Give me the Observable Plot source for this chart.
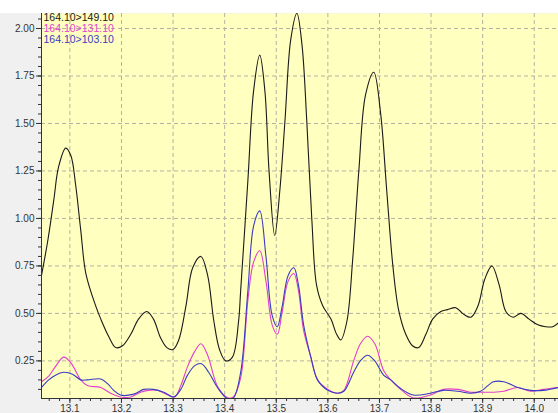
<!DOCTYPE html>
<html>
<head>
<meta charset="utf-8">
<script src="https://cdn.jsdelivr.net/npm/d3@7"></script>
<script src="https://cdn.jsdelivr.net/npm/@observablehq/plot@0.6"></script>
<style>
  html, body { margin: 0; padding: 0; background: #f0f0f0; }
  #chart svg { display: block; }
</style>
</head>
<body>
<div id="chart"></div>
<script>
// Retention time (min) and intensity pairs for each MRM transition
const trace149 = [
  [13.045, 0.70], [13.057, 0.88], [13.069, 1.10], [13.078, 1.27], [13.092, 1.37],
  [13.102, 1.33], [13.111, 1.18], [13.121, 0.94], [13.131, 0.71], [13.150, 0.54],
  [13.160, 0.47], [13.175, 0.38], [13.189, 0.32], [13.202, 0.33], [13.218, 0.39],
  [13.233, 0.47], [13.249, 0.51], [13.262, 0.47], [13.276, 0.37], [13.288, 0.32],
  [13.300, 0.31], [13.311, 0.36], [13.325, 0.54], [13.338, 0.74], [13.354, 0.80],
  [13.367, 0.70], [13.379, 0.46], [13.390, 0.31], [13.402, 0.25], [13.415, 0.27],
  [13.427, 0.46], [13.431, 0.62], [13.445, 1.20], [13.456, 1.67], [13.468, 1.86],
  [13.478, 1.67], [13.486, 1.25], [13.497, 0.91], [13.507, 1.15], [13.517, 1.52],
  [13.528, 1.94], [13.540, 2.08], [13.550, 1.91], [13.559, 1.52], [13.569, 0.99],
  [13.578, 0.65], [13.590, 0.54], [13.606, 0.47], [13.617, 0.39], [13.625, 0.36],
  [13.637, 0.46], [13.648, 0.78], [13.660, 1.25], [13.673, 1.65], [13.689, 1.77],
  [13.702, 1.56], [13.714, 1.15], [13.726, 0.75], [13.737, 0.52], [13.751, 0.39],
  [13.764, 0.33], [13.776, 0.32], [13.790, 0.39], [13.803, 0.47], [13.819, 0.51],
  [13.832, 0.52], [13.848, 0.53], [13.861, 0.50], [13.877, 0.48], [13.891, 0.54],
  [13.904, 0.68], [13.918, 0.75], [13.932, 0.65], [13.945, 0.51], [13.959, 0.48],
  [13.974, 0.50], [13.990, 0.47], [14.007, 0.44], [14.022, 0.43], [14.036, 0.43],
  [14.047, 0.45]
];

const trace131 = [
  [13.045, 0.14], [13.059, 0.17], [13.072, 0.22], [13.088, 0.27], [13.102, 0.24],
  [13.121, 0.15], [13.134, 0.12], [13.160, 0.11], [13.179, 0.08], [13.198, 0.06],
  [13.218, 0.06], [13.237, 0.085], [13.251, 0.095], [13.270, 0.095], [13.290, 0.07],
  [13.303, 0.06], [13.315, 0.12], [13.328, 0.22], [13.342, 0.30], [13.354, 0.34],
  [13.367, 0.28], [13.386, 0.116], [13.406, 0.056], [13.417, 0.06], [13.431, 0.16],
  [13.445, 0.57], [13.456, 0.77], [13.468, 0.83], [13.480, 0.67], [13.492, 0.44],
  [13.502, 0.39], [13.511, 0.50], [13.523, 0.67], [13.534, 0.71], [13.543, 0.62],
  [13.553, 0.41], [13.567, 0.27], [13.580, 0.15], [13.600, 0.10], [13.619, 0.08],
  [13.631, 0.095], [13.650, 0.25], [13.663, 0.34], [13.677, 0.38], [13.691, 0.34],
  [13.708, 0.20], [13.722, 0.15], [13.741, 0.10], [13.766, 0.055], [13.799, 0.07],
  [13.824, 0.10], [13.852, 0.10], [13.877, 0.085], [13.896, 0.085], [13.921, 0.085],
  [13.941, 0.09], [13.968, 0.11], [13.993, 0.09], [14.018, 0.10], [14.047, 0.11]
];

const trace103 = [
  [13.045, 0.11], [13.059, 0.15], [13.072, 0.175], [13.088, 0.19], [13.105, 0.18],
  [13.121, 0.15], [13.134, 0.15], [13.160, 0.155], [13.173, 0.13], [13.185, 0.095],
  [13.198, 0.07], [13.224, 0.075], [13.243, 0.10], [13.262, 0.10], [13.282, 0.085],
  [13.301, 0.06], [13.315, 0.10], [13.328, 0.175], [13.342, 0.225], [13.355, 0.235],
  [13.369, 0.19], [13.386, 0.11], [13.406, 0.05], [13.417, 0.055], [13.431, 0.19],
  [13.445, 0.62], [13.456, 0.96], [13.468, 1.04], [13.480, 0.80], [13.492, 0.49],
  [13.502, 0.43], [13.511, 0.53], [13.523, 0.70], [13.534, 0.74], [13.543, 0.65],
  [13.553, 0.44], [13.567, 0.27], [13.580, 0.15], [13.600, 0.095], [13.619, 0.08],
  [13.631, 0.09], [13.650, 0.19], [13.663, 0.25], [13.677, 0.28], [13.691, 0.25],
  [13.708, 0.175], [13.722, 0.15], [13.741, 0.105], [13.766, 0.07], [13.799, 0.08],
  [13.824, 0.095], [13.852, 0.09], [13.877, 0.08], [13.896, 0.09], [13.921, 0.14],
  [13.941, 0.14], [13.968, 0.11], [13.993, 0.095], [14.018, 0.095], [14.047, 0.11]
];

// Legend entries (transition name and colour)
const seriesNames = ["164.10>149.10", "164.10>131.10", "164.10>103.10"];
const seriesColors = ["#1a1a1a", "#e33fcf", "#3a3ac4"];

// Axis ticks
const xDomain = [13.045, 14.047];
const yDomain = [0.052, 2.079];
const xMajor = [13.1, 13.2, 13.3, 13.4, 13.5, 13.6, 13.7, 13.8, 13.9, 14.0];
const yMajor = [0.25, 0.50, 0.75, 1.00, 1.25, 1.50, 1.75, 2.00];
const xMinor = d3.range(13.06, 14.045, 0.02).map(v => +v.toFixed(2));
const yMinor = d3.range(0.10, 2.06, 0.05).map(v => +v.toFixed(2));

const gridStyle = {stroke: "#b2b2a2", strokeOpacity: 1, strokeDasharray: "4,3"};
const lineOf = (data, color) =>
  Plot.line(data, {x: d => d[0], y: d => d[1], stroke: color, strokeWidth: 1.1, curve: "catmull-rom", clip: true});

const chart = Plot.plot({
  width: 558,
  height: 413,
  marginLeft: 41,
  marginRight: 0,
  marginTop: 13,
  marginBottom: 15,
  style: {
    fontFamily: "'Liberation Sans', Arial, sans-serif",
    fontSize: "10px",
    color: "#333",
    background: "linear-gradient(#ffffff 0 13px, #f0f0f0 13px)"
  },
  x: {domain: xDomain, axis: null},
  y: {domain: yDomain, axis: null},
  marks: [
    Plot.frame({fill: "#ffffc0", stroke: "none"}),
    Plot.gridX(xMajor, gridStyle),
    Plot.gridY(yMajor, gridStyle),
    lineOf(trace149, seriesColors[0]),
    lineOf(trace131, seriesColors[1]),
    lineOf(trace103, seriesColors[2]),
    Plot.ruleX([xDomain[0]], {stroke: "#333"}),
    Plot.ruleY([yDomain[0]], {stroke: "#333"}),
    Plot.axisY({ticks: yMajor, tickSize: 5, tickPadding: 2, tickFormat: d3.format(".2f"), label: null}),
    Plot.axisY({ticks: yMinor, tickSize: 3, tickFormat: () => "", label: null}),
    Plot.axisX({ticks: xMajor, tickSize: 5, tickPadding: 1, tickFormat: d3.format(".1f"), label: null}),
    Plot.axisX({ticks: xMinor, tickSize: 3, tickFormat: () => "", label: null}),
    ...seriesNames.map((name, i) =>
      Plot.text([name], {
        frameAnchor: "top-left",
        text: d => d,
        fill: seriesColors[i],
        fontSize: 10.5,
        textAnchor: "start",
        lineAnchor: "middle",
        dx: 2,
        dy: 4.5 + i * 11
      })
    )
  ]
});

document.getElementById("chart").appendChild(chart);
</script>
</body>
</html>
